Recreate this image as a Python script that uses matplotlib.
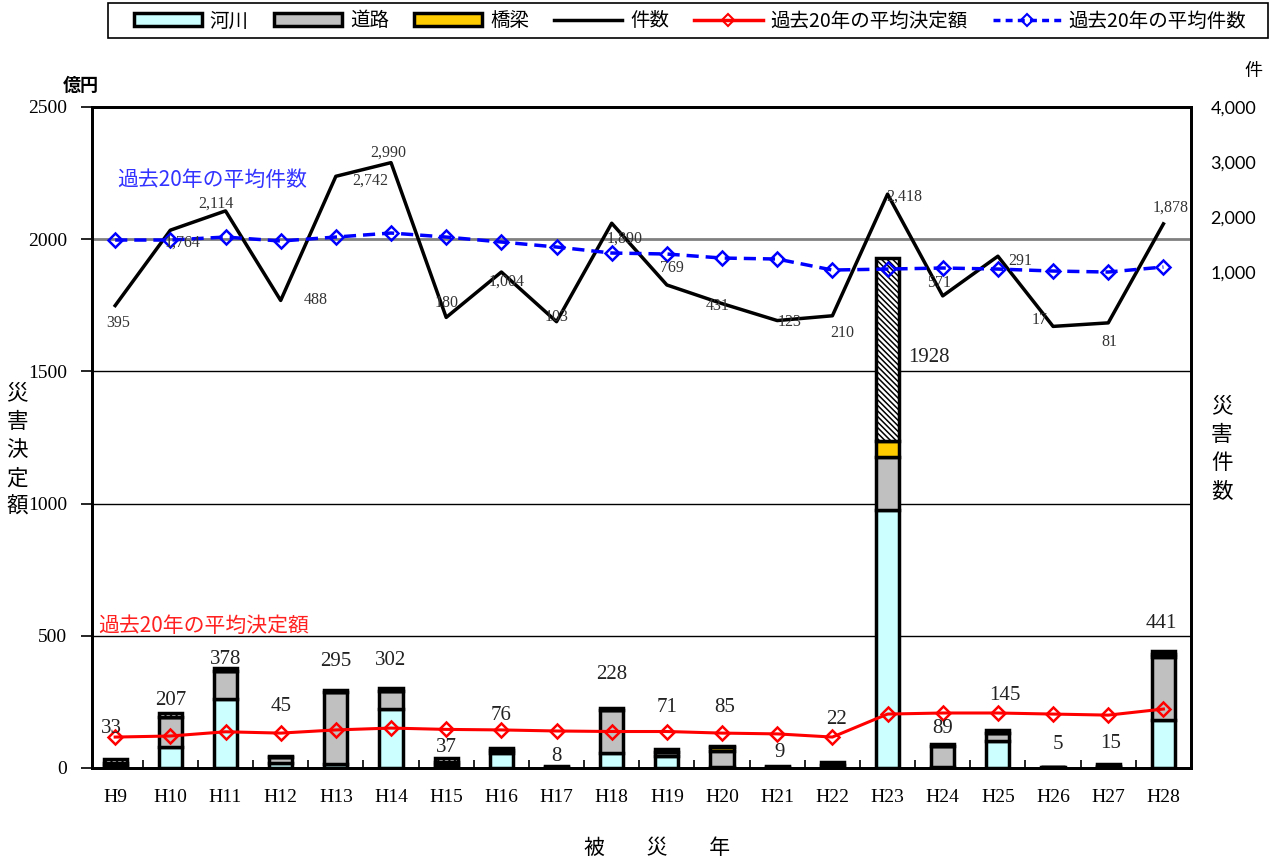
import matplotlib
matplotlib.use("Agg")
import matplotlib.pyplot as plt
from matplotlib.patches import Patch, Rectangle
from matplotlib.lines import Line2D
import numpy as np

# ---------------- data ----------------
years = ["H9", "H10", "H11", "H12", "H13", "H14", "H15", "H16", "H17", "H18",
         "H19", "H20", "H21", "H22", "H23", "H24", "H25", "H26", "H27", "H28"]
river = [8, 78, 262, 20, 16, 225, 10, 58, 2, 58, 46, 3, 2, 10, 975, 2, 101, 1, 3, 180]
road = [12, 116, 103, 20, 271, 65, 12, 10, 2, 162, 15, 60, 3, 2, 200, 80, 33, 1, 4, 240]
bridge = [0, 0, 0, 0, 0, 0, 0, 0, 0, 0, 0, 15, 0, 0, 60, 0, 0, 0, 0, 10]
other = [13, 13, 13, 5, 8, 12, 15, 8, 4, 8, 10, 7, 4, 10, 693, 7, 11, 3, 8, 11]
counts = [395, 1764, 2114, 488, 2742, 2990, 180, 1004, 103, 1890,
          769, 431, 123, 210, 2418, 571, 1291, 17, 81, 1878]
count_labels = ["395", "1,764", "2,114", "488", "2,742", "2,990", "180", "1,004", "103", "1,890",
                "769", "431", "123", "210", "2,418", "571", "291", "17", "81", "1,878"]
avg_amount = [117, 121, 137, 132, 144, 151, 146, 144, 140, 138,
              138, 132, 129, 117, 204, 208, 208, 204, 200, 223]
avg_count = [1585, 1585, 1639, 1567, 1639, 1712, 1639, 1549, 1458, 1349,
             1331, 1258, 1240, 1040, 1058, 1077, 1058, 1022, 1004, 1095]

# label layout (not data)
bar_label_y = [151, 257, 412, 234, 401, 408, 79, 197, 45, 352,
               227, 227, 57, 182, 1551, 151, 276, 87, 91, 545]
bar_label_dx = [-0.07, 0, 0, 0, 0, 0, 0, 0, 0, 0, 0, 0.05, 0.05, 0.08, 0.75, 0, 0.12, 0.08, 0.05, -0.03]
count_off = [(3, -17), (12, -12), (-10, 7), (35, 0), (34, -4), (-3, 10), (0, 14), (5, -10),
             (0, 5), (13, -15), (5, 17), (-4, -2), (12, -1), (10, -17), (17, -2), (-4, 13),
             (22, -5), (-13, 6), (1, -19), (7, 16)]

# ---------------- style ----------------
plt.rcParams['font.family'] = ['Liberation Serif', 'Noto Sans CJK JP']
plt.rcParams['hatch.linewidth'] = 1.1
JP = ['Noto Sans CJK JP', 'DejaVu Sans']

W, H = 1275, 861
fig = plt.figure(figsize=(W / 100, H / 100), dpi=100)
L, R, T, B = 92, 1191, 107, 768
ax = fig.add_axes([L / W, 1 - B / H, (R - L) / W, (B - T) / H])
ax2 = ax.twinx()

x = np.arange(len(years))
bw = 0.42
river_a = np.array(river)
road_a = np.array(road)
bridge_a = np.array(bridge)
other_a = np.array(other)
ekw = dict(edgecolor='black', linewidth=2.5, width=bw, zorder=3)
ax.bar(x, river_a, color='#CCFFFF', **ekw)
ax.bar(x, road_a, bottom=river_a, color='#C0C0C0', **ekw)
ax.bar(x, bridge_a, bottom=river_a + road_a, color='#FFCC00', **ekw)
ax.bar(x, other_a, bottom=river_a + road_a + bridge_a, color='white', hatch='\\\\\\\\\\\\', **ekw)

totals = river_a + road_a + bridge_a + other_a
for i, t in enumerate(totals):
    ax.text(x[i] + bar_label_dx[i], bar_label_y[i], str(t), ha='center', va='center',
            fontsize=15, color='#222222', zorder=6)

ax.plot(x, avg_amount, color='red', lw=2.2, marker='D', ms=7, mfc='none', mec='red', mew=1.8, zorder=5)

ax.set_xlim(-0.42, 19.5)
ax.set_ylim(0, 2500)
ax.set_yticks([0, 500, 1000, 1500, 2000, 2500])
ax.set_yticklabels(["0", "500", "1000", "1500", "2000", "2500"], fontsize=14)
ax.tick_params(axis='y', direction='out', length=8, width=1.2, pad=10)
ax.set_xticks(x)
ax.set_xticklabels(years, fontsize=14)
ax.set_xticks(x[:-1] + 0.5, minor=True)
ax.tick_params(axis='x', which='major', length=0, pad=15)
ax.tick_params(axis='x', which='minor', direction='in', length=6, width=1.2)
ax.yaxis.grid(True, color='black', lw=1.0, zorder=0)
ax.set_axisbelow(True)
for gl, v in zip(ax.get_ygridlines(), [0, 500, 1000, 1500, 2000, 2500]):
    if v == 2000:
        gl.set_color('#808080')
        gl.set_linewidth(2)
for s in ax.spines.values():
    s.set_linewidth(2)

# counts on right axis
ax2.plot(x, counts, color='black', lw=2.5, zorder=4)
ax2.plot(x, avg_count, color='blue', lw=2.5, ls=(0, (3.5, 2)), marker='D', ms=7,
         mfc='none', mec='blue', mew=1.8, zorder=5)
for i, c in enumerate(counts):
    ax2.annotate(count_labels[i], (x[i], c), xytext=count_off[i], textcoords='offset pixels',
                 ha='center', va='center', fontsize=11.5, color='#333333', zorder=6)
ax2.set_ylim(-8000, 4000)
ax2.set_yticks([1000, 2000, 3000, 4000])
ax2.set_yticklabels(["1,000", "2,000", "3,000", "4,000"], fontsize=13, family='Lato')
ax2.tick_params(axis='y', length=0, pad=14)
for s in ax2.spines.values():
    s.set_linewidth(2)

# texts
fig.text(81 / W, 1 - 85 / H, '億円', ha='center', va='center', fontsize=13, fontweight='bold', family=JP)
fig.text(1253 / W, 1 - 71 / H, '件', ha='center', va='center', fontsize=13, family=JP)
fig.text(17 / W, 1 - 450 / H, '災\n害\n決\n定\n額', ha='center', va='center', fontsize=15.5,
         family=JP, linespacing=1.38)
fig.text(1222 / W, 1 - 449 / H, '災\n害\n件\n数', ha='center', va='center', fontsize=15.5,
         family=JP, linespacing=1.38)
fig.text(657 / W, 1 - 848 / H, '被　　災　　年', ha='center', va='center', fontsize=15, family=JP)
fig.text(117 / W, 1 - 180 / H, '過去20年の平均件数', ha='left', va='center', fontsize=15,
         family=JP, color='#3333FF')
fig.text(98 / W, 1 - 626 / H, '過去20年の平均決定額', ha='left', va='center', fontsize=15,
         family=JP, color='#FF2020')

# legend
fig.patches.append(Rectangle((108 / W, 1 - 38 / H), 1160 / W, 35 / H, transform=fig.transFigure,
                             facecolor='white', edgecolor='black', linewidth=1.2, zorder=1))
handles = [
    Patch(facecolor='#CCFFFF', edgecolor='black', linewidth=2.5),
    Patch(facecolor='#C0C0C0', edgecolor='black', linewidth=2.5),
    Patch(facecolor='#FFCC00', edgecolor='black', linewidth=2.5),
    Line2D([], [], color='black', lw=2.5),
    Line2D([], [], color='red', lw=2.5, marker='D', ms=6, mfc='none', mec='red', mew=1.5),
    Line2D([], [], color='blue', lw=2.5, ls=(0, (2, 1.5)), marker='D', ms=6, mfc='none', mec='blue', mew=1.5),
]
labels = ['河川', '道路', '橋梁', '件数', '過去20年の平均決定額', '過去20年の平均件数']
leg = fig.legend(handles, labels, loc='center left', ncol=6,
                 bbox_to_anchor=(134 / W, 1 - 21 / H),
                 prop={'family': JP, 'size': 14}, frameon=False,
                 handlelength=3.5, handletextpad=0.4, handleheight=0.6,
                 borderaxespad=0, borderpad=0, columnspacing=1.3)
leg.set_zorder(2)

fig.savefig('out.png', dpi=100)
